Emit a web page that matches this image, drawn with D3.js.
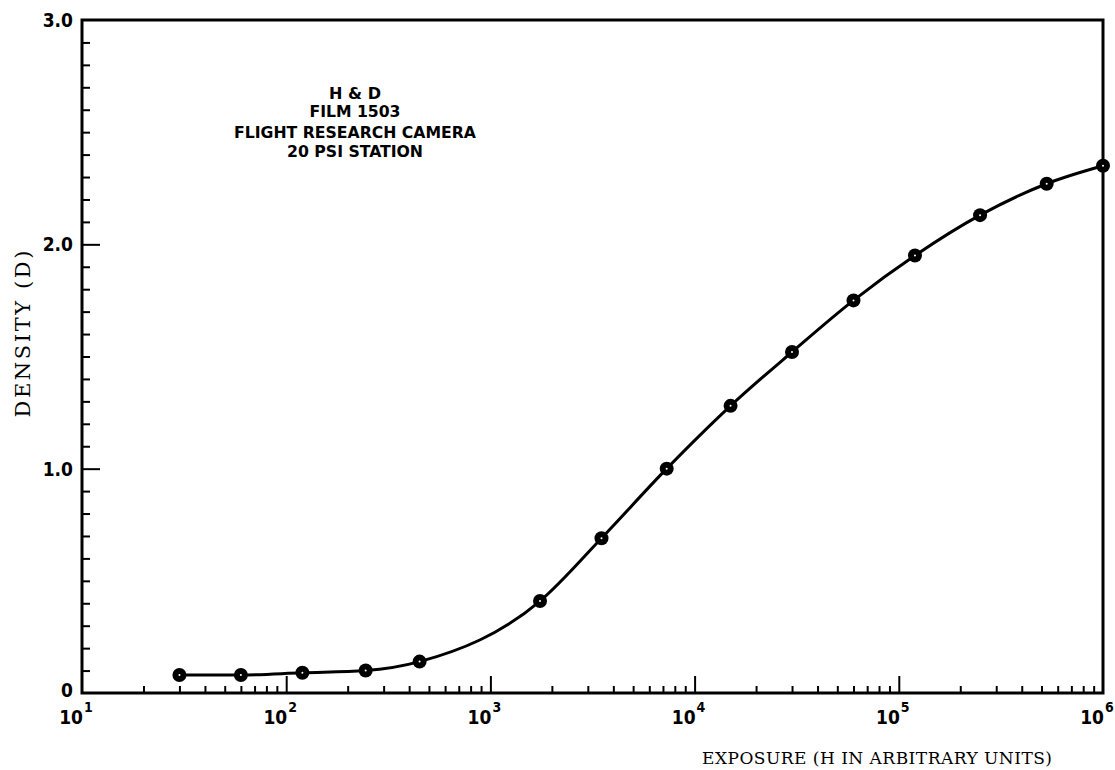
<!DOCTYPE html>
<html lang="en">
<head>
  <meta charset="UTF-8">
  <title>H &amp; D curve</title>
  <style>
    body { margin: 0; background: #fff; }
    .bold { font-family: 'Liberation Sans Narrow', 'DejaVu Sans Condensed', 'Roboto Condensed', sans-serif; font-stretch: condensed; font-weight: bold; fill: #000; }
    .type { font-family: 'DejaVu Serif', 'Liberation Serif', serif; fill: #000; }
  </style>
</head>
<body>
  <script src="https://d3js.org/d3.v7.min.js"></script>
  <script>
    // values
    let exposure = [30, 60, 120, 245, 450, 1750, 3500, 7300, 15000, 30000, 60000, 120000, 250000, 530000, 1000000];
    let density = [0.08, 0.08, 0.09, 0.10, 0.14, 0.41, 0.69, 1.00, 1.28, 1.52, 1.75, 1.95, 2.13, 2.27, 2.35];
    let decades = [10, 100, 1000, 10000, 100000, 1000000];
    let yLabels = [0, 1, 2, 3];
    let note = ["H & D", "FILM 1503", "FLIGHT RESEARCH CAMERA", "20 PSI STATION"];

    let width = 1115, height = 770;
    let plotLeft = 82, plotRight = 1103, plotTop = 20, plotBottom = 693;

    let svg = d3.select("body").append("svg")
      .attr("width", width)
      .attr("height", height);

    let x = d3.scaleLog().domain([10, 1e6]).range([plotLeft, plotRight]);
    let y = d3.scaleLinear().domain([0, 3]).range([plotBottom, plotTop]);

    // minor ticks on x (2..9 per decade)
    let minorX = [];
    decades.slice(0, -1).forEach(function(d) {
      for (let k = 2; k <= 9; k++) minorX.push(d * k);
    });

    let gx = svg.append("g").attr("transform", "translate(0," + plotBottom + ")");
    gx.append("g").call(d3.axisBottom(x).tickValues(minorX).tickSize(-7).tickFormat(""))
      .call(g => g.select(".domain").remove());
    gx.append("g").call(d3.axisBottom(x).tickValues(decades.slice(1, -1)).tickSize(-17).tickFormat(""))
      .call(g => g.select(".domain").remove());
    gx.selectAll("line").attr("stroke", "#000").attr("stroke-width", 2);

    // minor ticks on y every 0.1
    let minorY = d3.range(1, 30).map(d => d / 10).filter(d => Math.abs(d - 1) > 1e-6 && Math.abs(d - 2) > 1e-6);
    let gy = svg.append("g").attr("transform", "translate(" + plotLeft + ",0)");
    gy.append("g").call(d3.axisLeft(y).tickValues(minorY).tickSize(-8).tickFormat(""))
      .call(g => g.select(".domain").remove());
    gy.append("g").call(d3.axisLeft(y).tickValues([1, 2]).tickSize(-18).tickFormat(""))
      .call(g => g.select(".domain").remove());
    gy.selectAll("line").attr("stroke", "#000").attr("stroke-width", 2);

    // frame
    svg.append("path")
      .attr("d", "M" + plotLeft + "," + plotTop + "V" + plotBottom + "H" + plotRight + "V" + plotTop + "Z")
      .attr("fill", "none")
      .attr("stroke", "#000")
      .attr("stroke-width", 3);

    // y labels
    svg.selectAll(".ylab").data(yLabels).enter().append("text")
      .attr("class", "bold")
      .attr("x", 73)
      .attr("y", d => y(d) + 7 - (d === 0 ? 3 : 0))
      .attr("text-anchor", "end")
      .attr("font-size", 19)
      .text(d => d === 0 ? "0" : d3.format(".1f")(d));

    // x labels 10^n
    let xl = svg.selectAll(".xlab").data(decades).enter().append("g");
    xl.append("text")
      .attr("class", "bold")
      .attr("x", d => x(d) + 1)
      .attr("y", 724)
      .attr("text-anchor", "end")
      .attr("font-size", 19)
      .text("10");
    xl.append("text")
      .attr("class", "bold")
      .attr("x", d => x(d) + 2)
      .attr("y", 712)
      .attr("font-size", 14)
      .text(d => Math.round(Math.log10(d)));

    // curve
    let pts = exposure.map((e, i) => [x(e), y(density[i])]);
    svg.append("path")
      .attr("d", d3.line().curve(d3.curveMonotoneX)(pts))
      .attr("fill", "none")
      .attr("stroke", "#000")
      .attr("stroke-width", 3);

    svg.selectAll(".pt").data(pts).enter().append("circle")
      .attr("cx", d => d[0]).attr("cy", d => d[1])
      .attr("r", 7).attr("fill", "#000");
    svg.selectAll(".dot").data(pts).enter().append("circle")
      .attr("cx", d => d[0]).attr("cy", d => d[1])
      .attr("r", 1).attr("fill", "#fff");

    // annotation
    let noteY = [99, 117, 138, 157];
    let noteW = [52, 91, 242, 136];
    svg.selectAll(".note").data(note).enter().append("text")
      .attr("class", "bold")
      .attr("x", 355)
      .attr("y", (d, i) => noteY[i])
      .attr("text-anchor", "middle")
      .attr("font-size", 15)
      .attr("textLength", (d, i) => noteW[i])
      .attr("lengthAdjust", "spacingAndGlyphs")
      .text(d => d);

    // axis titles
    svg.append("text")
      .attr("class", "type")
      .attr("transform", "translate(30,334) rotate(-90)")
      .attr("text-anchor", "middle")
      .attr("font-size", 21)
      .attr("textLength", 167)
      .text("DENSITY (D)");

    svg.append("text")
      .attr("class", "type")
      .attr("x", 702)
      .attr("y", 764)
      .attr("font-size", 17)
      .attr("textLength", 350)
      .text("EXPOSURE (H IN ARBITRARY UNITS)");
  </script>
</body>
</html>
